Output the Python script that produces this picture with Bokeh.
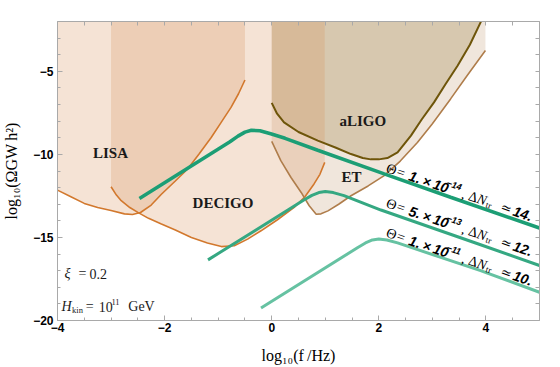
import math
from bokeh.plotting import figure
from bokeh.models import FixedTicker, LinearAxis, Label, Range1d
from bokeh.embed import file_html
from bokeh.resources import INLINE

# ---------------- data ----------------
x_min, x_max = -4.0, 5.0
y_min, y_max = -20.0, -2.0
y_top = -2.0

lisa_x = [-4.1, -4.0, -3.75, -3.5, -3.25, -3.0, -2.75, -2.6, -2.45, -2.25, -2.06, -1.8, -1.57, -1.35, -1.13, -0.95, -0.76, -0.62, -0.5]
lisa_y = [-12.0, -12.15, -12.55, -12.95, -13.2, -13.38, -13.58, -13.62, -13.5, -13.05, -12.4, -11.6, -10.88, -9.95, -8.98, -8.1, -7.17, -6.35, -5.52]

decigo_x = [-3.0, -2.9, -2.81, -2.65, -2.5, -2.3, -2.06, -1.8, -1.5, -1.2, -0.94, -0.7, -0.45, -0.2, 0.1, 0.42, 0.62, 0.79, 0.9, 0.99]
decigo_y = [-11.95, -12.45, -12.79, -13.2, -13.49, -13.85, -14.19, -14.55, -15.0, -15.33, -15.55, -15.5, -15.1, -14.6, -13.95, -13.19, -12.55, -11.78, -11.2, -10.48]

aligo_x = [0.0, 0.1, 0.23, 0.5, 0.86, 1.2, 1.48, 1.7, 1.85, 2.0, 2.16, 2.35, 2.6, 2.8, 3.03, 3.25, 3.47, 3.7, 3.9, 3.93]
aligo_y = [-6.9, -7.55, -8.07, -8.65, -9.17, -9.6, -9.98, -10.22, -10.3, -10.3, -10.22, -9.88, -8.87, -7.9, -6.87, -5.75, -4.66, -3.4, -2.05, -1.85]

et_x = [0.0, 0.17, 0.36, 0.55, 0.7, 0.83, 0.92, 1.05, 1.25, 1.48, 1.8, 2.1, 2.4, 2.72, 3.0, 3.34, 3.65, 3.99]
et_y = [-9.22, -10.38, -11.39, -12.29, -13.09, -13.6, -13.58, -13.4, -13.0, -12.49, -11.9, -11.28, -10.4, -9.28, -8.15, -6.66, -5.25, -3.75]

gw1_x = [-2.47, -0.78, -0.63, -0.5, -0.38, -0.22, -0.02, 0.25, 0.86, 2.1, 3.34, 5.0]
gw1_y = [-12.65, -9.24, -8.9, -8.66, -8.55, -8.58, -8.76, -9.03, -9.75, -11.17, -12.58, -14.43]

gw2_x = [-1.19, 0.6, 0.75, 0.88, 1.0, 1.15, 1.35, 2.04, 3.9, 5.0]
gw2_y = [-16.35, -12.75, -12.47, -12.3, -12.24, -12.3, -12.48, -13.35, -15.44, -16.69]

gw3_x = [-0.2, 1.6, 1.75, 1.88, 2.0, 2.15, 2.35, 3.9, 5.0]
gw3_y = [-19.25, -15.62, -15.33, -15.15, -15.1, -15.15, -15.33, -17.0, -18.3]

theta_mant = ["1.\u2009×\u200910", "5.\u2009×\u200910", "1.\u2009×\u200910"]
theta_exp = ["\u221214", "\u221213", "\u221211"]
dntr_vals = ["14.", "12.", "10."]

x_major = [-4, -2, 0, 2, 4]
x_minor = [-4 + 0.5 * i for i in range(19)]
y_major = [-20, -15, -10, -5]
y_minor = list(range(-20, -1))
x_labels = {-4: "\u22124", -2: "\u22122", 0: "0", 2: "2", 4: "4"}
y_labels = {-20: "\u221220", -15: "\u221215", -10: "\u221210", -5: "\u22125"}
x_title = "log\u2081\u2080(f\u2009/Hz)"
y_title = "log\u2081\u2080(\u03a9GW\u2009h\u00b2)"

# ---------------- figure ----------------
p = figure(width=560, height=367, x_range=Range1d(x_min, x_max), y_range=Range1d(y_min, y_max),
           output_backend="svg", toolbar_location=None,
           min_border_left=56, min_border_right=21, min_border_top=21, min_border_bottom=47)
p.xgrid.visible = False
p.ygrid.visible = False
p.outline_line_color = None
p.background_fill_color = "white"

AX = "#a9a9a9"


def style_axis(ax, ticks, minor, labels):
    ax.ticker = FixedTicker(ticks=ticks, minor_ticks=minor)
    ax.axis_line_color = AX
    ax.major_tick_line_color = AX
    ax.minor_tick_line_color = AX
    ax.major_tick_in = 5
    ax.major_tick_out = 0
    ax.minor_tick_in = 3
    ax.minor_tick_out = 0
    ax.major_label_overrides = labels
    ax.major_label_text_font = "Liberation Sans"
    ax.major_label_text_font_style = "bold"
    ax.major_label_text_font_size = "12px"
    ax.major_label_text_color = "black"
    ax.axis_label_text_font = "Liberation Serif"
    ax.axis_label_text_font_style = "normal"
    ax.axis_label_text_font_size = "16px"
    ax.axis_label_text_color = "black"


style_axis(p.xaxis[0], x_major, x_minor, x_labels)
style_axis(p.yaxis[0], y_major, y_minor, y_labels)
p.xaxis[0].major_label_standoff = 2
p.yaxis[0].major_label_standoff = 4
p.xaxis[0].axis_label = x_title
p.yaxis[0].axis_label = y_title
p.xaxis[0].axis_label_standoff = 12
p.yaxis[0].axis_label_standoff = 10

for loc, minor in (("above", x_minor), ("right", y_minor)):
    extra = LinearAxis(ticker=FixedTicker(ticks=[], minor_ticks=minor),
                       axis_line_color=AX, minor_tick_line_color=AX,
                       minor_tick_in=4, minor_tick_out=0, major_tick_in=0, major_tick_out=0)
    p.add_layout(extra, loc)


def region(xs, ys):
    return xs + [xs[-1], xs[0]], ys + [y_top, y_top]


ex, ey = region(et_x, et_y)
p.patch(ex, ey, fill_color="#c39b73", fill_alpha=0.25, line_color=None)
ax_, ay_ = region(aligo_x, aligo_y)
p.patch(ax_, ay_, fill_color="#a08549", fill_alpha=0.3, line_color=None)
lx, ly = region(lisa_x, lisa_y)
p.patch(lx, ly, fill_color="#d7935b", fill_alpha=0.26, line_color=None)
dx_, dy_ = region(decigo_x, decigo_y)
p.patch(dx_, dy_, fill_color="#d7935b", fill_alpha=0.26, line_color=None)

p.line(lisa_x, lisa_y, line_color="#d2782d", line_width=1.6)
p.line(decigo_x, decigo_y, line_color="#d2782d", line_width=1.6)
p.line(et_x, et_y, line_color="#af7d4b", line_width=1.6)
p.line(aligo_x, aligo_y, line_color="#6e550a", line_width=2.0)

p.line(gw3_x, gw3_y, line_color="#66c2a2", line_width=3)
p.line(gw2_x, gw2_y, line_color="#35a882", line_width=3)
p.line(gw1_x, gw1_y, line_color="#1c9e75", line_width=3.5)

PXX = 53.67  # px per x unit
PXY = 16.6   # px per y unit
SERIF = "Liberation Serif"
SANS = "Liberation Sans"


def lab(x, y, text, size, font=SERIF, style="normal", angle=0.0, color="#1a1a1a",
        align="left", baseline="alphabetic"):
    p.add_layout(Label(x=x, y=y, text=text, text_font=font, text_font_style=style,
                       text_font_size=f"{size}px", angle=angle, text_color=color,
                       text_align=align, text_baseline=baseline))


# detector names
for name, x, y in [("LISA", -3.01, -9.94), ("DECIGO", -0.91, -12.93), ("aLIGO", 1.70, -7.97), ("ET", 1.49, -11.34)]:
    lab(x, y, name, 15, style="bold", align="center", baseline="middle")

# rotated curve labels
ang = math.radians(18.6)
c, s = math.cos(ang), math.sin(ang)
anchors = [(2.148, -10.80), (2.148, -12.91), (2.148, -14.69)]
for (axx, ayy), mant, ex_, dn in zip(anchors, theta_mant, theta_exp, dntr_vals):
    pieces = [
        ("\u0398", 0, 0, SERIF, "normal", 14),
        ("=", 11, 0, SERIF, "normal", 14),
        (mant, 24, 0, SANS, "bold italic", 14),
        (ex_, 62, 5, SANS, "bold italic", 9),
        (",", 80, 0, SERIF, "normal", 14),
        ("\u0394", 87, 0, SERIF, "normal", 14),
        ("N", 96, 0, SERIF, "italic", 14),
        ("tr", 106, -3, SERIF, "normal", 9),
        ("\u2243", 121, 0, "DejaVu Sans", "normal", 13),
        (dn, 134, 0, SANS, "bold italic", 14),
    ]
    for txt, d, h, font, style, size in pieces:
        x = axx + (d * c + h * s) / PXX
        y = ayy - (d * s - h * c) / PXY
        lab(x, y, txt, size, font=font, style=style, angle=-ang, color="black")

# parameter annotations
lab(-3.870, -17.2, "\u03be", 14, style="italic")
lab(-3.609, -17.2, "=", 14)
lab(-3.404, -17.2, "0.2", 14)
lab(-3.926, -19.16, "H", 14, style="italic")
lab(-3.727, -19.16 - 3 / PXY, "kin", 8.5)
lab(-3.473, -19.16, "=", 14)
lab(-3.230, -19.16, "10", 14)
lab(-2.994, -19.16 + 5 / PXY, "11", 8.5)
lab(-2.678, -19.16, "GeV", 14)

open("out.html", "w").write(file_html(p, INLINE))
